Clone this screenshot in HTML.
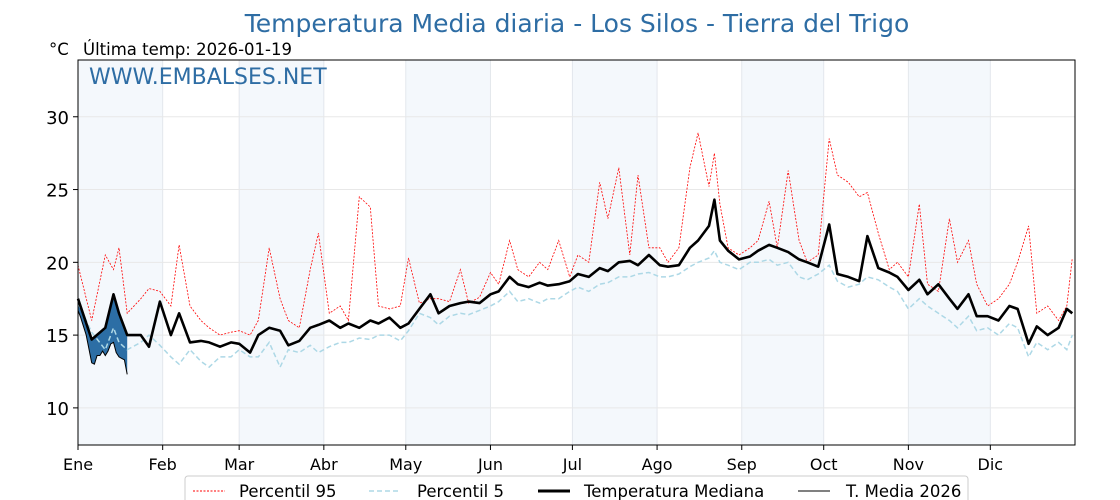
<!DOCTYPE html>
<html><head><meta charset="utf-8"><style>
html,body{margin:0;padding:0;background:#fff;}
svg{display:block;font-family:"DejaVu Sans","Liberation Sans",sans-serif;}
</style></head><body>
<svg id="chart" width="1120" height="500" viewBox="0 0 1120 500" xmlns="http://www.w3.org/2000/svg">
<text x="577" y="32" text-anchor="middle" font-size="25" fill="#2e6da4">Temperatura Media diaria - Los Silos - Tierra del Trigo</text>
<text x="49" y="55" font-size="16.5" fill="#000">°C</text>
<text x="83" y="55" font-size="16.5" fill="#000">Última temp: 2026-01-19</text>
<g id="plot"></g>
<text x="89" y="84" font-size="22" fill="#2e6da4">WWW.EMBALSES.NET</text>
<g id="legend">
<rect x="185" y="476" width="783" height="30" rx="3" fill="#fff" stroke="#ccc"/>
<g><line x1="193" y1="491" x2="225" y2="491" stroke="red" stroke-width="1" stroke-dasharray="2,1.5"/><text x="239" y="497" font-size="16.5">Percentil 95</text></g>
<g><line x1="369" y1="491" x2="401" y2="491" stroke="#add8e6" stroke-width="1.5" stroke-dasharray="5,3"/><text x="417" y="497" font-size="16.5">Percentil 5</text></g>
<g><line x1="538" y1="491" x2="570" y2="491" stroke="#000" stroke-width="3"/><text x="584" y="497" font-size="16.5">Temperatura Mediana</text></g>
<g><line x1="798" y1="491" x2="830" y2="491" stroke="#000" stroke-width="1"/><text x="846" y="497" font-size="16.5">T. Media 2026</text></g>
</g>
</svg>
<script>
const months = ["Ene","Feb","Mar","Abr","May","Jun","Jul","Ago","Sep","Oct","Nov","Dic"];
const monthStart = [0,31,59,90,120,151,181,212,243,273,304,334];
const yTicks = [10,15,20,25,30];
const days = [0,5,10,13,15,18,23,26,30,34,37,41,45,48,52,56,59,63,66,70,74,77,81,85,88,92,96,99,103,107,110,114,118,121,125,129,132,136,140,143,147,151,154,158,161,165,169,172,176,180,183,187,191,194,198,202,205,209,213,216,220,224,227,231,233,235,238,242,246,249,253,256,260,264,267,271,275,278,282,286,289,293,297,300,304,308,311,315,319,322,326,329,333,337,341,344,348,351,355,359,362,364];
const median = [17.5,14.7,15.5,17.8,16.5,15,15,14.2,17.3,15,16.5,14.5,14.6,14.5,14.2,14.5,14.4,13.8,15,15.5,15.3,14.3,14.6,15.5,15.7,16,15.5,15.8,15.5,16,15.8,16.2,15.5,15.8,16.8,17.8,16.5,17,17.2,17.3,17.2,17.8,18,19,18.5,18.3,18.6,18.4,18.5,18.7,19.2,19,19.6,19.4,20,20.1,19.8,20.5,19.8,19.7,19.8,21,21.5,22.5,24.3,21.5,20.8,20.2,20.4,20.8,21.2,21,20.7,20.2,20,19.7,22.6,19.2,19,18.7,21.8,19.6,19.3,19,18.1,18.8,17.8,18.5,17.5,16.8,17.8,16.3,16.3,16,17,16.8,14.4,15.6,15,15.5,16.8,16.5];
const p95 = [19.8,16,20.5,19.5,21,16.5,17.5,18.2,18,17,21.2,17,16,15.5,15,15.2,15.3,15,16,21,17.5,16,15.5,19.5,22,16.5,17,16,24.5,23.8,17,16.8,17,20.3,17.2,17.5,17.5,17.3,19.5,17.2,17.6,19.3,18.5,21.5,19.5,19,20,19.5,21.5,19,20.5,20,25.5,23,26.5,20.5,26,21,21,20,21,26.5,28.9,25.2,27.5,24,21,20.5,21,21.5,24.2,21,26.3,21.5,20,20.5,28.5,26,25.5,24.5,24.8,22,19.5,20,19,24,18.5,18,23,20,21.5,18.5,17,17.5,18.5,20,22.5,16.5,17,16,17,20.3];
const p5 = [17.2,15.2,14,15.5,14.5,14,14.5,15,14.3,13.5,13,14,13.2,12.8,13.5,13.5,14,13.5,13.5,14.5,12.8,14,13.8,14.3,13.8,14.2,14.5,14.5,14.8,14.7,15,15,14.6,15.3,16.5,16.2,15.7,16.3,16.5,16.4,16.7,17,17.3,18,17.3,17.5,17.2,17.5,17.5,18,18.3,18,18.5,18.6,19,19,19.2,19.3,19,19,19.2,19.7,20,20.3,20.8,20,19.8,19.5,20,20,20.2,19.8,20,19,18.8,19.2,19.8,18.7,18.3,18.5,19,18.8,18.3,18,16.8,17.5,17,16.5,16,15.5,16.3,15.3,15.5,15,15.8,15.5,13.5,14.5,14,14.5,14,15];
const days2026 = [0,1,3,5,6,7,8,9,10,11,12,13,14,15,16,17,18];
const t2026 = [16.7,16.2,15.0,13.1,13.0,13.6,13.6,13.9,13.6,13.9,14.4,14.5,13.8,13.5,13.4,13.3,12.3];

const X0=78,X1=1075,Y0=60,Y1=445,D0=0,D1=365,V0=7.45,V1=33.9;
const xs=d=>X0+(d-D0)/(D1-D0)*(X1-X0);
const ys=v=>Y1-(v-V0)/(V1-V0)*(Y1-Y0);
const NS="http://www.w3.org/2000/svg";
const plot=document.getElementById('plot');
function mk(tag,attrs,parent){const e=document.createElementNS(NS,tag);for(const k in attrs)e.setAttribute(k,attrs[k]);(parent||plot).appendChild(e);return e;}
function interp(dArr,vArr,d){for(let i=0;i<dArr.length-1;i++){if(d>=dArr[i]&&d<=dArr[i+1]){const t=(d-dArr[i])/(dArr[i+1]-dArr[i]);return vArr[i]+t*(vArr[i+1]-vArr[i]);}}return vArr[vArr.length-1];}

for(let i=0;i<12;i+=2){
  const a=xs(monthStart[i]), b=xs(i+1<12?monthStart[i+1]:365);
  const r=mk('rect',{x:a,y:Y0,width:b-a,height:Y1-Y0,fill:'#f4f8fc'});
  
  
}
monthStart.forEach((m,i)=>{
  const g=mk('line',{x1:xs(m),x2:xs(m),y1:Y0,y2:Y1,stroke:'#e3e7ec','stroke-width':1});
  
  
  const t=mk('text',{x:xs(m),y:Y1+25,'text-anchor':'middle','font-size':16,fill:'#000'});
  t.textContent=months[i];
  
  
  mk('line',{x1:xs(m),x2:xs(m),y1:Y1,y2:Y1+5,stroke:'#000'});
});
yTicks.forEach(v=>{
  const g=mk('line',{x1:X0,x2:X1,y1:ys(v),y2:ys(v),stroke:'#e8e8e8','stroke-width':1});
  
  
  mk('line',{x1:X0-5,x2:X0,y1:ys(v),y2:ys(v),stroke:'#000'});
  const t=mk('text',{x:X0-9,y:ys(v)+7,'text-anchor':'end','font-size':18,fill:'#000'});
  t.textContent=v;
  
  
});
function pathOf(dArr,vArr){return dArr.map((d,i)=>(i?'L':'M')+xs(d).toFixed(1)+','+ys(vArr[i]).toFixed(1)).join(' ');}

let fd='M'+days2026.map((d,i)=>xs(d).toFixed(1)+','+ys(t2026[i]).toFixed(1)).join(' L');
for(let i=days2026.length-1;i>=0;i--){const d=days2026[i];fd+=' L'+xs(d).toFixed(1)+','+ys(interp(days,median,d)).toFixed(1);}
const f=mk('path',{d:fd+' Z',fill:'#2c6ea5'});



const lp95=mk('path',{d:pathOf(days,p95),fill:'none',stroke:'red','stroke-width':0.8,'stroke-dasharray':'2,1.5'});


const lp5=mk('path',{d:pathOf(days,p5),fill:'none',stroke:'#add8e6','stroke-width':1.5,'stroke-dasharray':'5,3'});


const lm=mk('path',{d:pathOf(days,median),fill:'none',stroke:'#000','stroke-width':2.6,'stroke-linejoin':'round'});


const l26=mk('path',{d:pathOf(days2026,t2026),fill:'none',stroke:'#000','stroke-width':1});



const fr=mk('rect',{x:X0,y:Y0,width:X1-X0,height:Y1-Y0,fill:'none',stroke:'#000','stroke-width':1});


</script>
</body></html>
